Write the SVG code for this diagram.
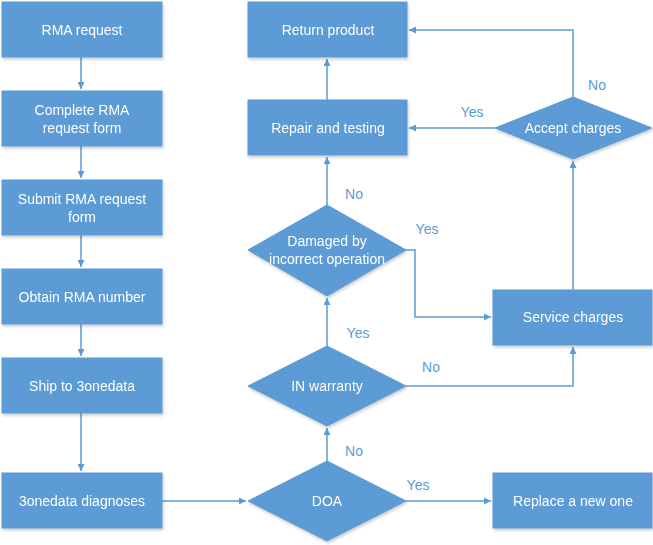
<svg xmlns="http://www.w3.org/2000/svg" width="653" height="545" viewBox="0 0 653 545">
<style>
.n{fill:#5b9bd5;stroke:#5b9bd5;stroke-width:1}
.t{fill:#fff;font-family:"Liberation Sans",Arial,sans-serif;font-size:14px;text-anchor:middle}
.c{fill:none;stroke:#5b9bd5;stroke-width:1.5;marker-end:url(#a)}
.l{fill:#5b9bd5;font-family:"Liberation Sans",Arial,sans-serif;font-size:14px;text-anchor:middle}
</style>
<defs>
<marker id="a" viewBox="0 0 10 10" refX="10" refY="5" markerWidth="7" markerHeight="7" markerUnits="userSpaceOnUse" orient="auto"><path d="M0,0L10,5L0,10z" fill="#5b9bd5"/></marker>
<filter id="s" x="-5%" y="-5%" width="115%" height="125%"><feDropShadow dx="1" dy="2" stdDeviation="1.5" flood-color="#000" flood-opacity="0.2"/></filter>
</defs>
<rect width="653" height="545" fill="#fff"/>
<g id="connectors">
<path class="c" d="M81,57V89"/>
<path class="c" d="M81,146V178"/>
<path class="c" d="M81,235V267"/>
<path class="c" d="M81,324V356"/>
<path class="c" d="M81,413V471"/>
<path class="c" d="M162,501H246"/>
<path class="c" d="M406,501H491"/>
<path class="c" d="M327,461V428"/>
<path class="c" d="M327,346V298"/>
<path class="c" d="M327,205V157"/>
<path class="c" d="M327,100V59"/>
<path class="c" d="M406,250H415V317H491"/>
<path class="c" d="M406,386H573V347"/>
<path class="c" d="M573,290V161"/>
<path class="c" d="M495,128H409"/>
<path class="c" d="M573,97V30H409"/>
</g>
<g id="labels">
<text class="l" x="418" y="490">Yes</text>
<text class="l" x="354" y="456">No</text>
<text class="l" x="358" y="338">Yes</text>
<text class="l" x="354" y="199">No</text>
<text class="l" x="427" y="234">Yes</text>
<text class="l" x="431" y="372">No</text>
<text class="l" x="472" y="117">Yes</text>
<text class="l" x="597" y="90">No</text>
</g>
<g id="n1" filter="url(#s)"><rect class="n" x="2" y="2" width="160" height="55"/><text class="t" x="82" y="35">RMA request</text></g>
<g id="n2" filter="url(#s)"><rect class="n" x="2" y="91" width="160" height="55"/><text class="t" x="82" y="115">Complete RMA</text><text class="t" x="82" y="133">request form</text></g>
<g id="n3" filter="url(#s)"><rect class="n" x="2" y="180" width="160" height="55"/><text class="t" x="82" y="204">Submit RMA request</text><text class="t" x="82" y="222">form</text></g>
<g id="n4" filter="url(#s)"><rect class="n" x="2" y="269" width="160" height="55"/><text class="t" x="82" y="302">Obtain RMA number</text></g>
<g id="n5" filter="url(#s)"><rect class="n" x="2" y="358" width="160" height="55"/><text class="t" x="82" y="391">Ship to 3onedata</text></g>
<g id="n6" filter="url(#s)"><rect class="n" x="2" y="473" width="160" height="55"/><text class="t" x="82" y="506">3onedata diagnoses</text></g>
<g id="n7" filter="url(#s)"><rect class="n" x="248" y="2" width="159" height="55"/><text class="t" x="328" y="35">Return product</text></g>
<g id="n8" filter="url(#s)"><rect class="n" x="248" y="100" width="159" height="55"/><text class="t" x="328" y="133">Repair and testing</text></g>
<g id="n9" filter="url(#s)"><polygon class="n" points="327,205 406,250 327,296 248,250"/><text class="t" x="327" y="246">Damaged by</text><text class="t" x="327" y="264">incorrect operation</text></g>
<g id="n10" filter="url(#s)"><polygon class="n" points="327,346 406,386 327,426 248,386"/><text class="t" x="327" y="391">IN warranty</text></g>
<g id="n11" filter="url(#s)"><polygon class="n" points="327,461 406,501 327,541 248,501"/><text class="t" x="327" y="506">DOA</text></g>
<g id="n12" filter="url(#s)"><polygon class="n" points="573,97 652,128 573,159 495,128"/><text class="t" x="573" y="133">Accept charges</text></g>
<g id="n13" filter="url(#s)"><rect class="n" x="493" y="290" width="159" height="55"/><text class="t" x="573" y="322">Service charges</text></g>
<g id="n14" filter="url(#s)"><rect class="n" x="493" y="473" width="159" height="55"/><text class="t" x="573" y="506">Replace a new one</text></g>
</svg>
